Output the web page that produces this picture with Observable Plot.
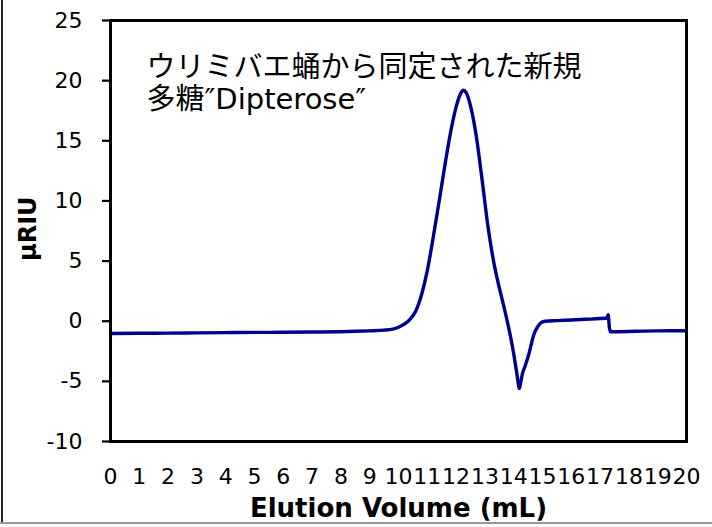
<!DOCTYPE html>
<html>
<head>
<meta charset="utf-8">
<script src="https://cdn.jsdelivr.net/npm/d3@7"></script>
<script src="https://cdn.jsdelivr.net/npm/@observablehq/plot@0.6"></script>
<style>
  html, body { margin: 0; padding: 0; background: #fff; }
  #wrap { position: relative; width: 712px; height: 527px; overflow: hidden; background: #fff; }
  #wrap svg { position: absolute; left: 0; top: 0; }
  #edgeL { position: absolute; left: 1px; top: 0; width: 2px; height: 524px; background: #222; }
  #edgeB { position: absolute; left: 0; top: 522px; width: 712px; height: 2px; background: #999; }
</style>
</head>
<body>
<div id="wrap"><div id="edgeL"></div><div id="edgeB"></div></div>
<script>
// Elution volume (mL)
const volume = [0, 1, 2, 3, 4, 5, 6, 7, 8, 8.5, 9.0, 9.5, 9.8, 10.0, 10.2, 10.4, 10.6, 10.8, 11.0, 11.2, 11.4, 11.6, 11.8, 12.0, 12.15, 12.25, 12.35, 12.5, 12.7, 12.9, 13.1, 13.3, 13.45, 13.6, 13.77, 13.9, 14.0, 14.1, 14.2, 14.25, 14.3, 14.4, 14.53, 14.7, 14.85, 14.95, 15.1, 15.5, 16.0, 16.5, 17.0, 17.24, 17.28, 17.32, 17.36, 17.6, 18.0, 18.5, 19.0, 19.5, 20.0];
// Detector response (µRIU)
const riu = [-1.02, -1.0, -0.99, -0.97, -0.95, -0.93, -0.92, -0.9, -0.87, -0.84, -0.8, -0.74, -0.65, -0.5, -0.24, 0.15, 0.85, 2.2, 4.2, 6.9, 9.8, 12.8, 15.6, 17.8, 18.9, 19.2, 19.0, 17.9, 15.4, 11.8, 8.0, 5.0, 3.3, 1.8, 0.06, -1.4, -2.7, -4.2, -5.6, -5.0, -4.4, -3.7, -2.7, -1.1, -0.4, -0.12, 0.0, 0.05, 0.1, 0.16, 0.22, 0.27, 0.55, -0.5, -0.88, -0.87, -0.85, -0.82, -0.8, -0.79, -0.79];

const yTicks = [-10, -5, 0, 5, 10, 15, 20, 25];
const xTicks = [0, 1, 2, 3, 4, 5, 6, 7, 8, 9, 10, 11, 12, 13, 14, 15, 16, 17, 18, 19, 20];
const xLabel = "Elution Volume (mL)";
const yLabel = "μRIU";
const titleText = "ウリミバエ蛹から同定された新規\n多糖″Dipterose″";

const data = volume.map((v, i) => ({volume: v, riu: riu[i]}));

const chart = Plot.plot({
  width: 712,
  height: 527,
  marginLeft: 110,
  marginRight: 26,
  marginTop: 20,
  marginBottom: 86,
  style: {background: "transparent", fontFamily: "'DejaVu Sans', sans-serif", color: "#000"},
  x: {domain: [0, 20]},
  y: {domain: [-10, 25]},
  marks: [
    Plot.line(data, {x: "volume", y: "riu", stroke: "#00008f", strokeWidth: 3.4, curve: "monotone-x"}),
    Plot.frame({stroke: "#000", strokeWidth: 3}),
    Plot.axisY({ticks: yTicks, tickFormat: d => String(d), tickSize: 8, tickPadding: 20, strokeWidth: 2.2, fontSize: 22, fontFamily: "DejaVu Sans", label: null}),
    Plot.axisX({ticks: xTicks, tickFormat: d => String(d), tickSize: 0, tickPadding: 27, fontSize: 22, fontFamily: "DejaVu Sans", label: null}),
    Plot.text([titleText], {frameAnchor: "top-left", textAnchor: "start", lineAnchor: "top", dx: 36, dy: 34, fontSize: 29, lineHeight: 1.1, fontFamily: "'DejaVu Sans', 'Noto Sans CJK JP', sans-serif", fill: "#000"}),
    Plot.text([xLabel], {frameAnchor: "bottom", dy: 75, fontSize: 26, fontWeight: "bold", fontFamily: "DejaVu Sans", fill: "#000"}),
    Plot.text([yLabel], {frameAnchor: "left", dx: -82, dy: 30, rotate: -90, fontSize: 24, fontWeight: "bold", fontFamily: "DejaVu Sans", fill: "#000"})
  ]
});
document.getElementById("wrap").appendChild(chart);
</script>
</body>
</html>
